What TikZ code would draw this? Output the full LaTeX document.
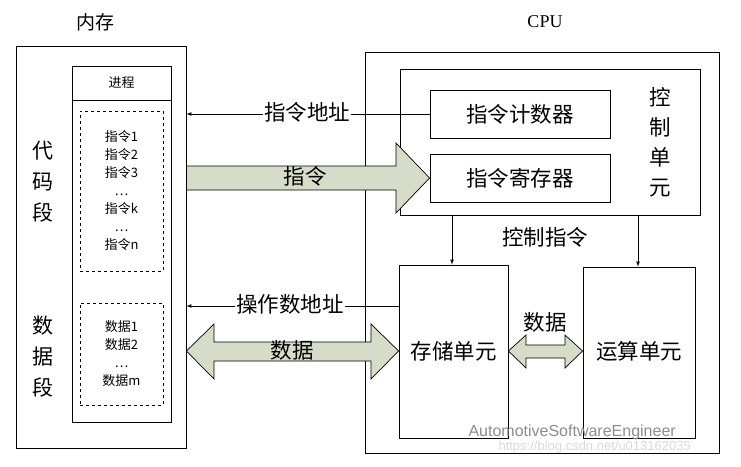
\documentclass[tikz,border=0pt]{standalone}
\usepackage{fontspec}
\setmainfont{Liberation Serif}
\newfontfamily\cjk{Noto Sans CJK SC}
\definecolor{fat}{RGB}{214,220,200}
\begin{document}
\begin{tikzpicture}[x=1pt,y=-1pt,
  box/.style={draw,line width=0.8pt,inner sep=0},
  dbox/.style={draw,dashed,line width=0.7pt,inner sep=0},
  big/.style={font=\cjk\fontsize{21.5}{24}\selectfont},
  small/.style={font=\cjk\fontsize{13}{15}\selectfont,align=center},
  fatarrow/.style={draw,fill=fat,line width=0.7pt},
  thin/.style={line width=0.7pt,-latex}]
\useasboundingbox (0,0) rectangle (741,466);
% memory
\node[box,minimum width=170,minimum height=402] (mem) at (101,247) {};
\node[font=\cjk\fontsize{19}{22}\selectfont] (memt) at (95,22) {内存};
\node[box,minimum width=99,minimum height=356] (proc) at (121.5,244) {};
\node[box,minimum width=99,minimum height=34] (proch) at (121.5,83) {};
\node[small] at (proch) {进程};
\node[dbox,minimum width=83,minimum height=160] (code) at (121.5,191) {};
\node[small,font=\cjk\fontsize{13}{18}\selectfont] at (code) {指令1\\指令2\\指令3\\…\\指令k\\…\\指令n};
\node[dbox,minimum width=83,minimum height=102] (data) at (121.5,354) {};
\node[small,font=\cjk\fontsize{13}{18}\selectfont] at (data) {数据1\\数据2\\…\\数据m};
\node[align=center,font=\cjk\fontsize{21}{31}\selectfont] (cseg) at (43,182) {代\\码\\段};
\node[align=center,font=\cjk\fontsize{21}{31}\selectfont] (dseg) at (43,357) {数\\据\\段};
% CPU
\node[font=\fontsize{18}{20}\selectfont] (cput) at (545,22) {CPU};
\node[box,minimum width=354,minimum height=401] (cpu) at (542,252.5) {};
\node[box,minimum width=300,minimum height=146] (cu) at (550,142) {};
\node[box,minimum width=180,minimum height=48,big] (pc) at (520,114) {指令计数器};
\node[box,minimum width=180,minimum height=48,big] (ir) at (520,178) {指令寄存器};
\node[align=center,font=\cjk\fontsize{21.5}{30}\selectfont] (cul) at (660,142) {控\\制\\单\\元};
\node[box,minimum width=109,minimum height=173] (st) at (453.5,351.5) {};
\node[big] at (453.5,351) {存储单元};
\node[box,minimum width=112,minimum height=171] (alu) at (639,352.5) {};
\node[big] at (639,351) {运算单元};
% connectors
\draw[thin] (pc.west) -- (pc.west -| mem.east);
\node[big,fill=white,inner sep=1] at (307,112) {指令地址};
\draw[thin] (st.west |- 0,306) -- (mem.east |- 0,306);
\node[big,fill=white,inner sep=1] at (290,304) {操作数地址};
\draw[fatarrow] (mem.east |- 0,166) -- (396,166) -- (396,143) -- (ir.west) -- (396,213) -- (396,190) -- (mem.east |- 0,190) -- cycle;
\node[big] at (305,176) {指令};
\draw[fatarrow] (mem.east |- 0,351) -- (214,324) -- (214,342) -- (371,342) -- (371,324) -- (st.west |- 0,351) -- (371,379) -- (371,361) -- (214,361) -- (214,379) -- cycle;
\node[big] at (292,350) {数据};
\draw[fatarrow] (st.east |- 0,351) -- (526,335) -- (526,345) -- (565,345) -- (565,335) -- (alu.west |- 0,351) -- (565,368) -- (565,358) -- (526,358) -- (526,368) -- cycle;
\node[big] at (545,322) {数据};
\draw[thin] (cu.south -| 452,0) -- (st.north -| 452,0);
\draw[thin] (cu.south -| 638,0) -- (alu.north -| 638,0);
\node[big] at (545,237) {控制指令};
% watermark
\node[text=black!45,font=\fontfamily{}\fontspec{Liberation Sans}\fontsize{16}{17}\selectfont,anchor=west] at (465,432) {AutomotiveSoftwareEngineer};
\node[text=black!15,font=\fontspec{Liberation Sans}\fontsize{13}{14}\selectfont,anchor=west] at (495,447) {https://blog.csdn.net/u013162035};
\end{tikzpicture}
\end{document}
